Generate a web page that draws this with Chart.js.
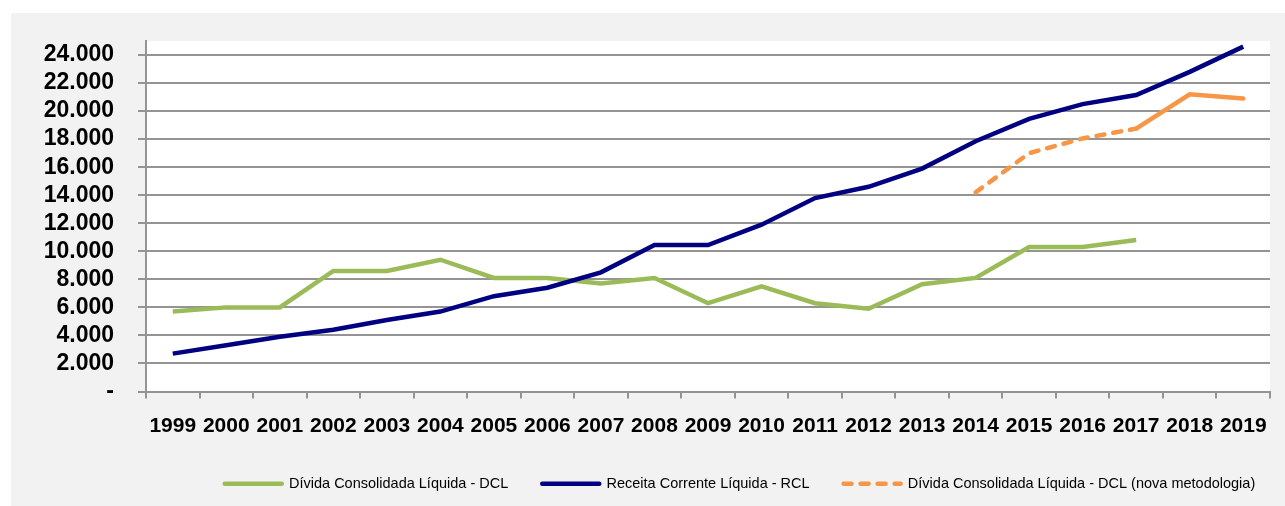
<!DOCTYPE html>
<html>
<head>
<meta charset="utf-8">
<script src="https://cdn.jsdelivr.net/npm/chart.js@4"></script>
<style>
  html, body { margin: 0; padding: 0; background: #fff; }
  #wrap {
    position: absolute;
    left: 11px;
    top: 13px;
    width: 1274px;
    height: 493px;
    background: #f2f2f2;
  }
</style>
</head>
<body>
<div id="wrap"><canvas id="dividaChart"></canvas></div>
<script>
const years = [
  "1999", "2000", "2001", "2002", "2003", "2004", "2005", "2006", "2007",
  "2008", "2009", "2010", "2011", "2012", "2013", "2014", "2015", "2016",
  "2017", "2018", "2019",
];

// Dívida Consolidada Líquida - DCL (ends in 2017)
const dcl = [
  5700, 6000, 6000, 8600, 8600, 9400, 8100, 8100, 7700, 8100, 6300, 7500,
  6300, 5900, 7650, 8100, 10300, 10300, 10800, null, null,
];

// Receita Corrente Líquida - RCL
const rcl = [
  2700, 3300, 3900, 4400, 5100, 5700, 6800, 7400, 8500, 10450, 10450, 11900,
  13800, 14600, 15900, 17850, 19450, 20500, 21150, 22800, 24600,
];

// DCL (nova metodologia), from 2014
const dclNova = [
  null, null, null, null, null, null, null, null, null, null, null, null,
  null, null, null, 14200, 17000, 18050, 18750, 21200, 20900,
];

const yTicks = [0, 2000, 4000, 6000, 8000, 10000, 12000, 14000, 16000, 18000, 20000, 22000, 24000];

const gridColor = "#949494";
const axisFont = { family: "Liberation Sans, Arial, sans-serif", weight: "bold" };
const dash = [8, 9];

function formatThousands(value) {
  if (value === 0) return "-";
  return String(value).replace(/\B(?=(\d{3})+(?!\d))/g, ".");
}

const plotBackground = {
  id: "plotBackground",
  beforeDraw(chart) {
    const { ctx, chartArea } = chart;
    ctx.save();
    ctx.fillStyle = "#ffffff";
    ctx.fillRect(chartArea.left, chartArea.top, chartArea.right - chartArea.left, chartArea.bottom - chartArea.top);
    ctx.restore();
  },
};

// legend is not centred on the canvas in the original, move it over
const legendShift = {
  id: "legendShift",
  afterLayout(chart) {
    const legend = chart.legend;
    if (!legend) return;
    const dx = 729 - (legend.left + legend.right) / 2;
    legend.left += dx;
    legend.right += dx;
  },
};

function legendLabels(chart) {
  const items = Chart.defaults.plugins.legend.labels.generateLabels(chart);
  items.forEach((item) => {
    item.lineWidth = 4.5;
    item.lineCap = "round";
    if (item.datasetIndex === 2) item.lineDash = dash;
  });
  return items;
}

document.addEventListener("DOMContentLoaded", function () {
  const ctx = document.getElementById("dividaChart").getContext("2d");

  new Chart(ctx, {
    type: "line",
    data: {
      labels: years,
      datasets: [
        {
          label: "Dívida Consolidada Líquida - DCL",
          data: dcl,
          borderColor: "#9bbb59",
          backgroundColor: "#9bbb59",
          borderWidth: 4.5,
          pointRadius: 0,
          order: 1,
        },
        {
          label: "Receita Corrente Líquida - RCL",
          data: rcl,
          borderColor: "#000080",
          backgroundColor: "#000080",
          borderWidth: 4.5,
          pointRadius: 0,
          order: 0,
        },
        {
          label: "Dívida Consolidada Líquida - DCL (nova metodologia)",
          data: dclNova,
          borderColor: "#f79646",
          backgroundColor: "#f79646",
          borderWidth: 4.5,
          borderDash: dash,
          borderCapStyle: "round",
          pointRadius: 0,
          order: 2,
          segment: {
            borderDash: (c) => (c.p0DataIndex >= 18 ? [] : undefined),
          },
        },
      ],
    },
    options: {
      responsive: true,
      maintainAspectRatio: false,
      animation: false,
      layout: {
        padding: { top: 28, right: 15, bottom: 5, left: 0 },
      },
      plugins: {
        tooltip: { enabled: false },
        legend: {
          position: "bottom",
          labels: {
            usePointStyle: true,
            pointStyle: "line",
            pointStyleWidth: 57,
            padding: 34,
            color: "#000",
            font: { family: "Liberation Sans, Arial, sans-serif", size: 14.5 },
            sort: (a, b) => a.datasetIndex - b.datasetIndex,
            generateLabels: legendLabels,
          },
        },
      },
      scales: {
        x: {
          offset: true,
          grid: {
            offset: true,
            drawOnChartArea: false,
            drawTicks: true,
            tickLength: 7,
            color: gridColor,
            lineWidth: 2,
          },
          border: { color: gridColor, width: 2 },
          ticks: {
            color: "#000",
            font: { ...axisFont, size: 21 },
            padding: 15,
            maxRotation: 0,
            minRotation: 0,
            autoSkip: false,
          },
          afterFit(scale) {
            scale.height = 51;
            scale.paddingLeft = 0;
            scale.paddingRight = 0;
          },
        },
        y: {
          min: 0,
          max: 25000,
          afterBuildTicks(scale) {
            scale.ticks = yTicks.map((v) => ({ value: v }));
          },
          grid: {
            color: gridColor,
            lineWidth: 2,
            tickLength: 8,
          },
          border: { color: gridColor, width: 2 },
          ticks: {
            color: "#000",
            font: { ...axisFont, size: 23 },
            padding: 24,
            autoSkip: false,
            callback: (value) => formatThousands(value),
          },
          afterFit(scale) {
            scale.width = 135;
            scale.paddingTop = 0;
            scale.paddingBottom = 0;
          },
        },
      },
    },
    plugins: [plotBackground, legendShift],
  });
});
</script>
</body>
</html>
